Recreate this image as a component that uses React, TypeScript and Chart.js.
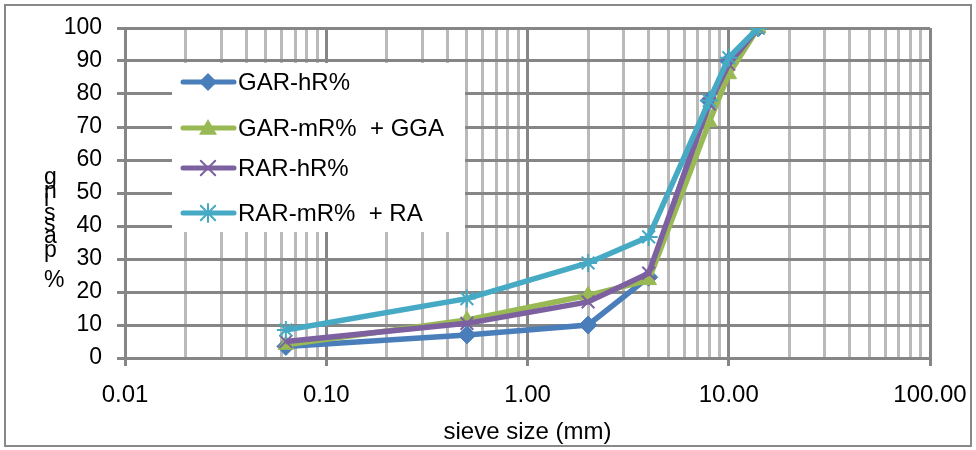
import React, { useEffect, useRef } from 'react';
import { Chart, registerables } from 'chart.js';
Chart.register(...registerables);

const sieveSizes = [0.063, 0.5, 2, 4, 8, 10, 14];
const garHR = [3.5, 7, 10, 24.5, 78, 90, 100];
const garMRGGA = [4, 11.5, 19, 23.6, 71.5, 86, 100];
const rarHR = [5, 10.5, 17, 25.7, 77, 89, 100];
const rarMRRA = [8.5, 18, 28.8, 36.7, 78, 91, 100];
const seriesNames = ['GAR-hR%', 'GAR-mR%  + GGA', 'RAR-hR%', 'RAR-mR%  + RA'];
const seriesValues = [garHR, garMRGGA, rarHR, rarMRRA];
const seriesColors = ['#4a7ebb', '#98b954', '#7d60a0', '#46aac5'];
const seriesMarkers = ['rectRot', 'triangle', 'crossRot', 'star'];
const xMin = 0.01;
const xMax = 100;
const yMin = 0;
const yMax = 100;
const yStep = 10;
const xTitle = 'sieve size (mm)';
const yTitleChars = ['%', 'p', 'a', 's', 's', 'i', 'n', 'g'];

const FONT = '"Liberation Sans", Arial, sans-serif';
const MAJOR = '#868686';
const MINOR = '#bababa';

function isDecade(v: number) {
  const l = Math.log10(v);
  return Math.abs(l - Math.round(l)) < 1e-9;
}

function drawMarker(ctx: CanvasRenderingContext2D, style: string, x: number, y: number, r: number, color: string) {
  ctx.save();
  ctx.fillStyle = color;
  ctx.strokeStyle = color;
  ctx.lineWidth = 2;
  ctx.beginPath();
  if (style === 'rectRot') {
    ctx.moveTo(x, y - r); ctx.lineTo(x + r, y); ctx.lineTo(x, y + r); ctx.lineTo(x - r, y); ctx.closePath(); ctx.fill();
  } else if (style === 'triangle') {
    ctx.moveTo(x, y - r); ctx.lineTo(x + r, y + r * 0.75); ctx.lineTo(x - r, y + r * 0.75); ctx.closePath(); ctx.fill();
  } else if (style === 'crossRot') {
    const d = r * 0.8;
    ctx.moveTo(x - d, y - d); ctx.lineTo(x + d, y + d); ctx.moveTo(x + d, y - d); ctx.lineTo(x - d, y + d); ctx.stroke();
  } else {
    const d = r * 0.8;
    ctx.moveTo(x - d, y - d); ctx.lineTo(x + d, y + d); ctx.moveTo(x + d, y - d); ctx.lineTo(x - d, y + d);
    ctx.moveTo(x, y - r); ctx.lineTo(x, y + r); ctx.stroke();
  }
  ctx.restore();
}

const framePlugin = {
  id: 'frame',
  beforeDraw(chart: any) {
    const ctx = chart.ctx;
    ctx.save();
    ctx.fillStyle = '#ffffff';
    ctx.fillRect(0, 0, chart.width, chart.height);
    ctx.strokeStyle = '#898989';
    ctx.lineWidth = 2;
    ctx.strokeRect(5, 5, chart.width - 10, chart.height - 9);
    ctx.restore();
  },
  afterDraw(chart: any) {
    const ctx = chart.ctx;
    ctx.save();
    // stacked y title
    ctx.fillStyle = '#000';
    ctx.font = `23px ${FONT}`;
    ctx.textAlign = 'left';
    ctx.textBaseline = 'alphabetic';
    const baselines = [287, 257, 243, 231, 220, 206, 198, 184];
    yTitleChars.forEach((c, i) => ctx.fillText(c, 44, baselines[i]));
    // legend
    const lx = 172, ly = 63, lw = 293, lh = 169;
    ctx.fillStyle = '#ffffff';
    ctx.fillRect(lx, ly, lw, lh);
    const rows = [82, 128, 168, 213];
    seriesNames.forEach((name, i) => {
      const y = rows[i];
      ctx.strokeStyle = seriesColors[i];
      ctx.lineWidth = 5;
      ctx.lineCap = 'round';
      ctx.beginPath();
      ctx.moveTo(183, y);
      ctx.lineTo(234, y);
      ctx.stroke();
      drawMarker(ctx, seriesMarkers[i], 208, y, 9, seriesColors[i]);
      ctx.fillStyle = '#000';
      ctx.font = `24px ${FONT}`;
      ctx.textBaseline = 'middle';
      ctx.fillText(name, 238, y + 1);
    });
    ctx.restore();
  },
};

export default function App() {
  const ref = useRef<HTMLCanvasElement | null>(null);
  useEffect(() => {
    document.body.style.margin = '0';
    const canvas = ref.current!;
    const datasets = seriesNames.map((name, i) => ({
      label: name,
      data: sieveSizes.map((x, j) => ({ x, y: seriesValues[i][j] })),
      borderColor: seriesColors[i],
      backgroundColor: seriesColors[i],
      borderWidth: 5.5,
      pointStyle: seriesMarkers[i] as any,
      pointRadius: 9,
      pointBorderWidth: i >= 2 ? 2 : 1,
      pointBorderColor: seriesColors[i],
      pointBackgroundColor: seriesColors[i],
      tension: 0,
      fill: false,
      order: 3 - i,
    }));
    const gridValues: number[] = [];
    for (let e = Math.log10(xMin); e < Math.log10(xMax); e++) {
      for (let m = 1; m <= 9; m++) gridValues.push(parseFloat((m * Math.pow(10, e)).toPrecision(6)));
    }
    gridValues.push(xMax);
    const chart = new Chart(canvas, {
      type: 'line',
      data: { datasets },
      plugins: [framePlugin],
      options: {
        animation: false,
        responsive: false,
        devicePixelRatio: 1,
        layout: { padding: { left: 0, right: 46, top: 28, bottom: 0 } },
        plugins: { legend: { display: false }, tooltip: { enabled: false } },
        scales: {
          x: {
            type: 'logarithmic',
            min: xMin,
            max: xMax,
            afterBuildTicks: (scale: any) => {
              scale.ticks = gridValues.map((v) => ({ value: v, major: isDecade(v) }));
            },
            afterFit: (scale: any) => {
              scale.height = 92;
              scale.paddingLeft = 0;
              scale.paddingRight = 0;
            },
            border: { display: false },
            grid: {
              color: (c: any) => (isDecade(c.tick.value) ? MAJOR : MINOR),
              tickColor: (c: any) => (isDecade(c.tick.value) ? MAJOR : 'rgba(0,0,0,0)'),
              lineWidth: 3,
              tickLength: 8,
            },
            ticks: {
              autoSkip: false,
              maxRotation: 0,
              padding: 15,
              color: '#000',
              font: { family: FONT, size: 24 },
              callback: (v: any) => (isDecade(Number(v)) ? Number(v).toFixed(2) : ''),
            },
            title: {
              display: true,
              text: xTitle,
              color: '#000',
              font: { family: FONT, size: 24 },
              padding: { top: 0, bottom: 3 },
            },
          },
          y: {
            min: yMin,
            max: yMax,
            afterFit: (scale: any) => {
              scale.width = 125;
              scale.paddingTop = 0;
              scale.paddingBottom = 0;
            },
            border: { display: false },
            grid: { color: MAJOR, lineWidth: 3, tickLength: 8, tickColor: MAJOR },
            ticks: {
              stepSize: yStep,
              padding: 15,
              color: '#000',
              font: { family: FONT, size: 23 },
            },
          },
        },
      },
    });
    return () => chart.destroy();
  }, []);
  return (
    <div style={{ width: 976, height: 450 }}>
      <canvas ref={ref} width={976} height={450} style={{ display: 'block' }} />
    </div>
  );
}
